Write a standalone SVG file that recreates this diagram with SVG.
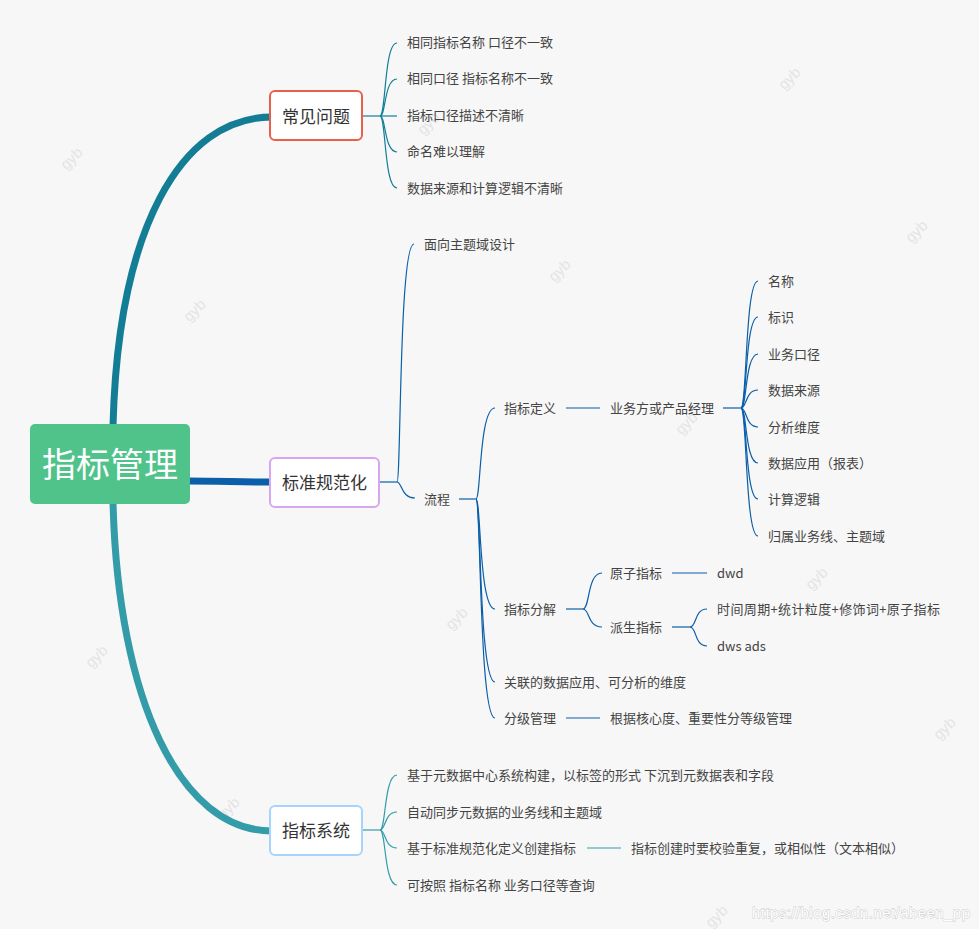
<svg xmlns="http://www.w3.org/2000/svg" width="979" height="929" viewBox="0 0 979 929">
<style>
.t{font-family:"Noto Sans CJK SC","Microsoft YaHei",sans-serif;font-size:13px;fill:#444;dominant-baseline:central}
.bt{font-family:"Noto Sans CJK SC","Microsoft YaHei",sans-serif;font-size:17px;fill:#333;dominant-baseline:central;text-anchor:middle}
.box{fill:#fff;stroke-width:2}
.wm{font-family:"Liberation Sans",sans-serif;font-size:15px;fill:#e4e4e4}
.c1{fill:none;stroke:#137d96;stroke-width:1.2}
.c2{fill:none;stroke:#0b5ea8;stroke-width:1.2}
.c3{fill:none;stroke:#339ca8;stroke-width:1.2}
</style>
<rect width="979" height="929" fill="#f7f7f7"/>
<g id="watermarks">
<text class="wm" transform="translate(75,162) rotate(-45)" text-anchor="middle">gyb</text>
<text class="wm" transform="translate(198,314) rotate(-45)" text-anchor="middle">gyb</text>
<text class="wm" transform="translate(432,127) rotate(-45)" text-anchor="middle">gyb</text>
<text class="wm" transform="translate(563,274) rotate(-45)" text-anchor="middle">gyb</text>
<text class="wm" transform="translate(690,427) rotate(-45)" text-anchor="middle">gyb</text>
<text class="wm" transform="translate(793,82) rotate(-45)" text-anchor="middle">gyb</text>
<text class="wm" transform="translate(920,235) rotate(-45)" text-anchor="middle">gyb</text>
<text class="wm" transform="translate(460,622) rotate(-45)" text-anchor="middle">gyb</text>
<text class="wm" transform="translate(820,582) rotate(-45)" text-anchor="middle">gyb</text>
<text class="wm" transform="translate(100,660) rotate(-45)" text-anchor="middle">gyb</text>
<text class="wm" transform="translate(948,732) rotate(-45)" text-anchor="middle">gyb</text>
<text class="wm" transform="translate(232,812) rotate(-45)" text-anchor="middle">gyb</text>
<text class="wm" transform="translate(720,920) rotate(-45)" text-anchor="middle">gyb</text>
</g>
<g id="connectors">
<path d="M113,426 C118,230 180,117 272,117" fill="none" stroke="#137d96" stroke-width="7"/>
<path d="M188,481 C220,481 240,482 272,482" fill="none" stroke="#0b5ea8" stroke-width="7"/>
<path d="M113,502 C118,700 180,831 272,831" fill="none" stroke="#339ca8" stroke-width="7"/>
<path class="c1" d="M362,116 H380"/>
<path class="c1" d="M380,116 C386,116 384,43 397,43"/>
<path class="c1" d="M380,116 C386,116 384,79 397,79"/>
<path class="c1" d="M380,116 H397"/>
<path class="c1" d="M380,116 C386,116 384,152 397,152"/>
<path class="c1" d="M380,116 C386,116 384,188 397,188"/>
<path class="c2" d="M379,482 H397"/>
<path class="c2" d="M397,482 C401,482 399,244 414,244"/>
<path class="c2" d="M397,482 C402,482 401,498 415,498"/>
<path class="c2" d="M459,499 H476"/>
<path class="c2" d="M476,499 C481,499 479,408 495,408"/>
<path class="c2" d="M476,499 C481,499 479,609 495,609"/>
<path class="c2" d="M476,499 C481,499 479,682 495,682"/>
<path class="c2" d="M476,499 C481,499 479,718 495,718"/>
<path class="c2" d="M566,408 H600"/>
<path class="c2" d="M723,408 H741"/>
<path class="c2" d="M741,408 C747,408 745,281 758,281"/>
<path class="c2" d="M741,408 C747,408 745,317 758,317"/>
<path class="c2" d="M741,408 C747,408 745,354 758,354"/>
<path class="c2" d="M741,408 C747,408 745,390 758,390"/>
<path class="c2" d="M741,408 C747,408 745,427 758,427"/>
<path class="c2" d="M741,408 C747,408 745,463 758,463"/>
<path class="c2" d="M741,408 C747,408 745,499 758,499"/>
<path class="c2" d="M741,408 C747,408 745,536 758,536"/>
<path class="c2" d="M566,609 H583"/>
<path class="c2" d="M583,609 C590,609 587,573 602,573"/>
<path class="c2" d="M583,609 C590,609 587,627 602,627"/>
<path class="c2" d="M672,573 H707"/>
<path class="c2" d="M672,627 H690"/>
<path class="c2" d="M690,627 C697,627 694,609 707,609"/>
<path class="c2" d="M690,627 C697,627 694,646 707,646"/>
<path class="c2" d="M566,718 H600"/>
<path class="c3" d="M362,830 H380"/>
<path class="c3" d="M380,830 C386,830 384,775 397,775"/>
<path class="c3" d="M380,830 C386,830 384,812 397,812"/>
<path class="c3" d="M380,830 C386,830 384,848 397,848"/>
<path class="c3" d="M380,830 C386,830 384,885 397,885"/>
<path class="c3" d="M587,848 H621"/>
</g>
<g id="root">
<rect x="30" y="424" width="160" height="80" rx="5" fill="#50c38b"/>
<text x="110" y="462" font-family="'Noto Sans CJK SC','Microsoft YaHei',sans-serif" font-size="34" fill="#fff" text-anchor="middle" dominant-baseline="central">指标管理</text>
</g>
<g id="n-changjian">
<rect class="box" x="270" y="91" width="92" height="49" rx="5" stroke="#e8604c"/>
<text class="bt" x="316" y="115">常见问题</text>
</g>
<g id="n-changjian-leaves" transform="translate(0,-1)">
<text class="t" x="407" y="42">相同指标名称 口径不一致</text>
<text class="t" x="407" y="78">相同口径 指标名称不一致</text>
<text class="t" x="407" y="115">指标口径描述不清晰</text>
<text class="t" x="407" y="151">命名难以理解</text>
<text class="t" x="407" y="188">数据来源和计算逻辑不清晰</text>
</g>
<g id="n-biaozhun">
<rect class="box" x="270" y="458" width="109" height="49" rx="5" stroke="#d6a6f0"/>
<text class="bt" x="324.5" y="481">标准规范化</text>
</g>
<g id="n-biaozhun-children" transform="translate(0,-1)">
<text class="t" x="424" y="244">面向主题域设计</text>
<text class="t" x="424" y="499">流程</text>
<text class="t" x="504" y="408">指标定义</text>
<text class="t" x="610" y="408">业务方或产品经理</text>
<text class="t" x="768" y="281">名称</text>
<text class="t" x="768" y="317">标识</text>
<text class="t" x="768" y="354">业务口径</text>
<text class="t" x="768" y="390">数据来源</text>
<text class="t" x="768" y="427">分析维度</text>
<text class="t" x="768" y="463">数据应用（报表）</text>
<text class="t" x="768" y="499">计算逻辑</text>
<text class="t" x="768" y="536">归属业务线、主题域</text>
<text class="t" x="504" y="609">指标分解</text>
<text class="t" x="610" y="573">原子指标</text>
<text class="t" x="717" y="573">dwd</text>
<text class="t" x="610" y="627">派生指标</text>
<text class="t" x="717" y="609" textLength="223">时间周期+统计粒度+修饰词+原子指标</text>
<text class="t" x="717" y="646">dws ads</text>
<text class="t" x="504" y="682">关联的数据应用、可分析的维度</text>
<text class="t" x="504" y="718">分级管理</text>
<text class="t" x="610" y="718">根据核心度、重要性分等级管理</text>
</g>
<g id="n-xitong">
<rect class="box" x="270" y="806" width="92" height="49" rx="5" stroke="#a6d4fa"/>
<text class="bt" x="316" y="829">指标系统</text>
</g>
<g id="n-xitong-leaves" transform="translate(0,-1)">
<text class="t" x="407" y="775">基于元数据中心系统构建，以标签的形式 下沉到元数据表和字段</text>
<text class="t" x="407" y="812">自动同步元数据的业务线和主题域</text>
<text class="t" x="407" y="848">基于标准规范化定义创建指标</text>
<text class="t" x="631" y="848">指标创建时要校验重复，或相似性（文本相似）</text>
<text class="t" x="407" y="885">可按照 指标名称 业务口径等查询</text>
</g>
<text x="752" y="918" font-family="'Liberation Sans',sans-serif" font-size="15" textLength="218" fill="#fff" stroke="#c4c4c4" stroke-width="0.8" paint-order="stroke">https://blog.csdn.net/abeen_pp</text>
</svg>
